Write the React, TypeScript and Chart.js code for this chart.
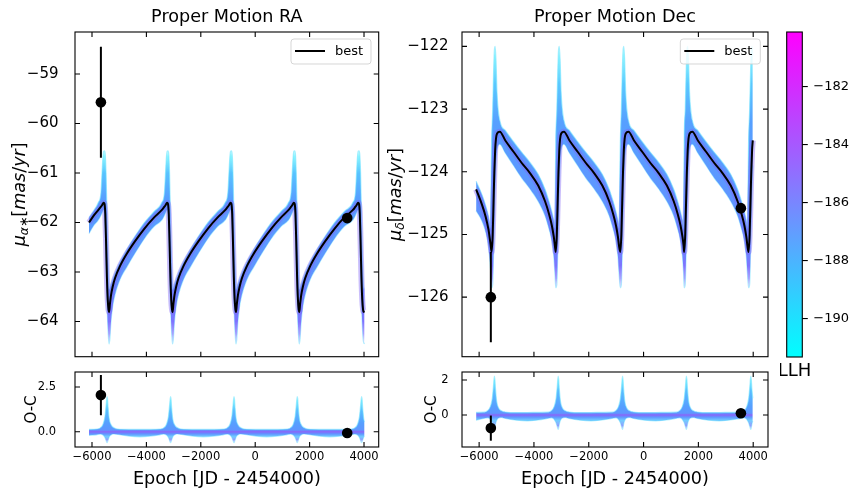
import React, { useEffect, useRef } from "react";
import { Chart, registerables } from "chart.js";

Chart.register(...registerables);

const FONT = '"DejaVu Sans", Verdana, sans-serif';
Chart.defaults.font.family = FONT;
Chart.defaults.color = "#000";

// ---------------- ticks & ranges ----------------
const epochTicks = [-6000, -4000, -2000, 0, 2000, 4000];
const raTicks = [-64, -63, -62, -61, -60, -59];
const decTicks = [-126, -125, -124, -123, -122];
const raResTicks = [0, 2.5];
const decResTicks = [0, 2];
const llhTicks = [-190, -188, -186, -184, -182];

const epochRange = [-6625, 4540];
const raRange = [-64.71, -58.15];
const decRange = [-126.95, -121.77];
const raResRange = [-0.85, 3.34];
const decResRange = [-1.83, 2.46];
const llhRange = [-191.32, -180.13];

const titleRA = "Proper Motion RA";
const titleDec = "Proper Motion Dec";
const epochLabel = "Epoch [JD - 2454000)";
const resLabel = "O-C";
const bestLabel = "best";
const cbarLabel = "LLH";

// ---------------- observations ----------------
const raObsEpoch = [-5673, 3382];
const raObs = [-59.57, -61.91];
const raObsErr = [1.12, 0.04];
const raObsRes = [2.05, -0.07];
const decObsEpoch = [-5573, 3551];
const decObs = [-126.0, -124.58];
const decObsErr = [0.72, 0.03];
const decObsRes = [-0.75, 0.1];

// ---------------- RA model curves ----------------
const raEpoch = [
  -6110, -5950,
  -5772, -5672, -5632, -5602, -5572, -5542, -5512, -5482, -5452, -5422, -5392, -5372, -5342, -5302, -5242, -5152, -4972, -4722, -4422, -4072, -3722,
  -3438, -3338, -3298, -3268, -3238, -3208, -3178, -3148, -3118, -3088, -3058, -3038, -3008, -2968, -2908, -2818, -2638, -2388, -2088, -1738, -1388,
  -1106, -1006, -966, -936, -906, -876, -846, -816, -786, -756, -726, -706, -676, -636, -576, -486, -306, -56, 244, 594, 944,
  1220, 1320, 1360, 1390, 1420, 1450, 1480, 1510, 1540, 1570, 1600, 1620, 1650, 1690, 1750, 1840, 2020, 2270, 2570, 2920, 3270,
  3585, 3685, 3725, 3755, 3785, 3815, 3845, 3875, 3905, 3935, 3965, 3985, 4020,
];
const raBest = [
  -62.0, -61.87,
  -61.75, -61.68, -61.65, -61.62, -61.6, -61.62, -61.82, -62.42, -63.1, -63.55, -63.76, -63.81, -63.65, -63.47, -63.3, -63.12, -62.88, -62.63, -62.38, -62.12, -61.9,
  -61.75, -61.68, -61.65, -61.62, -61.6, -61.62, -61.82, -62.42, -63.1, -63.55, -63.76, -63.81, -63.65, -63.47, -63.3, -63.12, -62.88, -62.63, -62.38, -62.12, -61.9,
  -61.75, -61.68, -61.65, -61.62, -61.6, -61.62, -61.82, -62.42, -63.1, -63.55, -63.76, -63.81, -63.65, -63.47, -63.3, -63.12, -62.88, -62.63, -62.38, -62.12, -61.9,
  -61.75, -61.68, -61.65, -61.62, -61.6, -61.62, -61.82, -62.42, -63.1, -63.55, -63.76, -63.81, -63.65, -63.47, -63.3, -63.12, -62.88, -62.63, -62.38, -62.12, -61.9,
  -61.75, -61.68, -61.65, -61.62, -61.6, -61.62, -61.82, -62.42, -63.1, -63.55, -63.76, -63.8, -63.81,
];
const raHi = [
  -61.9, -61.77,
  -61.6, -61.4, -61.0, -60.7, -60.56, -60.55, -60.62, -61.0, -61.75, -62.55, -63.1, -63.35, -63.32, -63.25, -63.16, -63.02, -62.8, -62.55, -62.28, -62.0, -61.78,
  -61.6, -61.4, -61.0, -60.7, -60.56, -60.55, -60.62, -61.0, -61.75, -62.55, -63.1, -63.35, -63.32, -63.25, -63.16, -63.02, -62.8, -62.55, -62.28, -62.0, -61.78,
  -61.6, -61.4, -61.0, -60.7, -60.56, -60.55, -60.62, -61.0, -61.75, -62.55, -63.1, -63.35, -63.32, -63.25, -63.16, -63.02, -62.8, -62.55, -62.28, -62.0, -61.78,
  -61.6, -61.4, -61.0, -60.7, -60.56, -60.55, -60.62, -61.0, -61.75, -62.55, -63.1, -63.35, -63.32, -63.25, -63.16, -63.02, -62.8, -62.55, -62.28, -62.0, -61.78,
  -61.6, -61.4, -61.0, -60.7, -60.56, -60.55, -60.62, -61.0, -61.75, -62.55, -63.1, -63.3, -63.35,
];
const raLo = [
  -62.22, -62.07,
  -61.95, -61.85, -61.8, -61.76, -61.74, -61.82, -62.3, -63.0, -63.6, -64.05, -64.35, -64.45, -64.35, -64.0, -63.7, -63.45, -63.15, -62.9, -62.62, -62.32, -62.08,
  -61.95, -61.85, -61.8, -61.76, -61.74, -61.82, -62.3, -63.0, -63.6, -64.05, -64.35, -64.45, -64.35, -64.0, -63.7, -63.45, -63.15, -62.9, -62.62, -62.32, -62.08,
  -61.95, -61.85, -61.8, -61.76, -61.74, -61.82, -62.3, -63.0, -63.6, -64.05, -64.35, -64.45, -64.35, -64.0, -63.7, -63.45, -63.15, -62.9, -62.62, -62.32, -62.08,
  -61.95, -61.85, -61.8, -61.76, -61.74, -61.82, -62.3, -63.0, -63.6, -64.05, -64.35, -64.45, -64.35, -64.0, -63.7, -63.45, -63.15, -62.9, -62.62, -62.32, -62.08,
  -61.95, -61.85, -61.8, -61.76, -61.74, -61.82, -62.3, -63.0, -63.6, -64.05, -64.35, -64.42, -64.45,
];

// ---------------- Dec model curves ----------------
const decEpoch = [
  -6110, -5900, -5760, -5660, -5585,
  -5545, -5505, -5475, -5445, -5415, -5385, -5345, -5245, -5045, -4745, -4445, -4145, -3845, -3595, -3445, -3345, -3275, -3235,
  -3205, -3165, -3135, -3105, -3075, -3045, -3005, -2905, -2705, -2405, -2105, -1805, -1505, -1255, -1105, -1005, -935, -895,
  -850, -810, -780, -750, -720, -690, -650, -550, -350, -50, 250, 550, 850, 1100, 1250, 1350, 1420, 1460,
  1480, 1520, 1550, 1580, 1610, 1640, 1680, 1780, 1980, 2280, 2580, 2880, 3180, 3430, 3580, 3680, 3750, 3790,
  3830, 3870, 3900, 3930, 3960, 3985,
];
const decBest = [
  -124.28, -124.52, -124.72, -124.92, -125.15,
  -125.28, -125.0, -124.5, -124.0, -123.65, -123.47, -123.39, -123.36, -123.5, -123.68, -123.86, -124.02, -124.22, -124.47, -124.68, -124.86, -125.04, -125.18,
  -125.28, -125.0, -124.5, -124.0, -123.65, -123.47, -123.39, -123.36, -123.5, -123.68, -123.86, -124.02, -124.22, -124.47, -124.68, -124.86, -125.04, -125.18,
  -125.28, -125.0, -124.5, -124.0, -123.65, -123.47, -123.39, -123.36, -123.5, -123.68, -123.86, -124.02, -124.22, -124.47, -124.68, -124.86, -125.04, -125.18,
  -125.28, -125.0, -124.5, -124.0, -123.65, -123.47, -123.39, -123.36, -123.5, -123.68, -123.86, -124.02, -124.22, -124.47, -124.68, -124.86, -125.04, -125.18,
  -125.28, -125.0, -124.5, -124.0, -123.65, -123.5,
];
const decHi = [
  -124.15, -124.36, -124.54, -124.71, -124.9,
  -123.55, -123.0, -122.45, -122.06, -122.0, -122.2, -122.75, -123.18, -123.34, -123.52, -123.69, -123.85, -124.04, -124.28, -124.48, -124.64, -124.78, -124.9,
  -123.55, -123.0, -122.45, -122.06, -122.0, -122.2, -122.75, -123.18, -123.34, -123.52, -123.69, -123.85, -124.04, -124.28, -124.48, -124.64, -124.78, -124.9,
  -123.55, -123.0, -122.45, -122.06, -122.0, -122.2, -122.75, -123.18, -123.34, -123.52, -123.69, -123.85, -124.04, -124.28, -124.48, -124.64, -124.78, -124.9,
  -123.55, -123.0, -122.45, -122.06, -122.0, -122.2, -122.75, -123.18, -123.34, -123.52, -123.69, -123.85, -124.04, -124.28, -124.48, -124.64, -124.78, -124.9,
  -123.55, -123.0, -122.45, -122.06, -122.0, -122.15,
];
const decLo = [
  -124.62, -124.78, -124.96, -125.18, -125.55,
  -125.85, -125.8, -125.35, -124.8, -124.25, -123.85, -123.64, -123.56, -123.7, -123.9, -124.1, -124.27, -124.47, -124.7, -124.92, -125.1, -125.35, -125.62,
  -125.85, -125.8, -125.35, -124.8, -124.25, -123.85, -123.64, -123.56, -123.7, -123.9, -124.1, -124.27, -124.47, -124.7, -124.92, -125.1, -125.35, -125.62,
  -125.85, -125.8, -125.35, -124.8, -124.25, -123.85, -123.64, -123.56, -123.7, -123.9, -124.1, -124.27, -124.47, -124.7, -124.92, -125.1, -125.35, -125.62,
  -125.85, -125.8, -125.35, -124.8, -124.25, -123.85, -123.64, -123.56, -123.7, -123.9, -124.1, -124.27, -124.47, -124.7, -124.92, -125.1, -125.35, -125.62,
  -125.85, -125.8, -125.35, -124.8, -124.25, -123.9,
];

// ---------------- RA residual band ----------------
const raResEpoch = [
  -6110,
  -5844, -5694, -5594, -5524, -5484, -5459, -5444, -5429, -5404, -5364, -5294, -5194, -5044, -4644, -4244, -3844,
  -3510, -3360, -3260, -3190, -3150, -3125, -3110, -3095, -3070, -3030, -2960, -2860, -2710, -2310, -1910, -1510,
  -1178, -1028, -928, -858, -818, -793, -778, -763, -738, -698, -628, -528, -378, 22, 422, 822,
  1148, 1298, 1398, 1468, 1508, 1533, 1548, 1563, 1588, 1628, 1698, 1798, 1948, 2348, 2748, 3148,
  3513, 3663, 3763, 3833, 3873, 3898, 3913, 3928, 3953, 3993, 4020,
];
const raResHi = [
  0.13,
  0.15, 0.22, 0.42, 0.85, 1.45, 1.85, 1.96, 1.85, 1.3, 0.7, 0.38, 0.22, 0.15, 0.13, 0.13, 0.13,
  0.15, 0.22, 0.42, 0.85, 1.45, 1.85, 1.96, 1.85, 1.3, 0.7, 0.38, 0.22, 0.15, 0.13, 0.13, 0.13,
  0.15, 0.22, 0.42, 0.85, 1.45, 1.85, 1.96, 1.85, 1.3, 0.7, 0.38, 0.22, 0.15, 0.13, 0.13, 0.13,
  0.15, 0.22, 0.42, 0.85, 1.45, 1.85, 1.96, 1.85, 1.3, 0.7, 0.38, 0.22, 0.15, 0.13, 0.13, 0.13,
  0.15, 0.22, 0.42, 0.85, 1.45, 1.85, 1.96, 1.85, 1.3, 0.7, 0.55,
];
const raResLo = [
  -0.2,
  -0.17, -0.13, -0.18, -0.32, -0.48, -0.58, -0.6, -0.56, -0.45, -0.28, -0.16, -0.12, -0.15, -0.24, -0.28, -0.24,
  -0.17, -0.13, -0.18, -0.32, -0.48, -0.58, -0.6, -0.56, -0.45, -0.28, -0.16, -0.12, -0.15, -0.24, -0.28, -0.24,
  -0.17, -0.13, -0.18, -0.32, -0.48, -0.58, -0.6, -0.56, -0.45, -0.28, -0.16, -0.12, -0.15, -0.24, -0.28, -0.24,
  -0.17, -0.13, -0.18, -0.32, -0.48, -0.58, -0.6, -0.56, -0.45, -0.28, -0.16, -0.12, -0.15, -0.24, -0.28, -0.24,
  -0.17, -0.13, -0.18, -0.32, -0.48, -0.58, -0.6, -0.56, -0.45, -0.28, -0.24,
];

// ---------------- Dec residual band ----------------
const decResEpoch = [
  -6110,
  -5840, -5690, -5590, -5520, -5480, -5455, -5440, -5425, -5400, -5360, -5290, -5190, -5040, -4640, -4240, -3840,
  -3512, -3362, -3262, -3192, -3152, -3127, -3112, -3097, -3072, -3032, -2962, -2862, -2712, -2312, -1912, -1512,
  -1165, -1015, -915, -845, -805, -780, -765, -750, -725, -685, -615, -515, -365, 35, 435, 835,
  1165, 1315, 1415, 1485, 1525, 1550, 1565, 1580, 1605, 1645, 1715, 1815, 1965, 2365, 2765, 3165,
  3515, 3665, 3765, 3835, 3875, 3900, 3915, 3930, 3955, 3985,
];
const decResHi = [
  0.15,
  0.16, 0.25, 0.48, 0.95, 1.6, 2.1, 2.22, 2.05, 1.45, 0.78, 0.4, 0.24, 0.17, 0.14, 0.14, 0.15,
  0.16, 0.25, 0.48, 0.95, 1.6, 2.1, 2.22, 2.05, 1.45, 0.78, 0.4, 0.24, 0.17, 0.14, 0.14, 0.15,
  0.16, 0.25, 0.48, 0.95, 1.6, 2.1, 2.22, 2.05, 1.45, 0.78, 0.4, 0.24, 0.17, 0.14, 0.14, 0.15,
  0.16, 0.25, 0.48, 0.95, 1.6, 2.1, 2.22, 2.05, 1.45, 0.78, 0.4, 0.24, 0.17, 0.14, 0.14, 0.15,
  0.16, 0.25, 0.48, 0.95, 1.6, 2.1, 2.22, 2.05, 1.45, 0.95,
];
const decResLo = [
  -0.3,
  -0.2, -0.16, -0.25, -0.45, -0.65, -0.78, -0.82, -0.72, -0.5, -0.3, -0.17, -0.14, -0.2, -0.3, -0.34, -0.28,
  -0.2, -0.16, -0.25, -0.45, -0.65, -0.78, -0.82, -0.72, -0.5, -0.3, -0.17, -0.14, -0.2, -0.3, -0.34, -0.28,
  -0.2, -0.16, -0.25, -0.45, -0.65, -0.78, -0.82, -0.72, -0.5, -0.3, -0.17, -0.14, -0.2, -0.3, -0.34, -0.28,
  -0.2, -0.16, -0.25, -0.45, -0.65, -0.78, -0.82, -0.72, -0.5, -0.3, -0.17, -0.14, -0.2, -0.3, -0.34, -0.28,
  -0.2, -0.16, -0.25, -0.45, -0.65, -0.78, -0.82, -0.72, -0.5, -0.36,
];

// ---------------- band colour stops (value -> colour) ----------------
type Stop = [number, string];
const raStops: Stop[] = [
  [-60.5, "rgba(195,255,255,0.25)"],
  [-60.66, "rgba(125,245,255,0.9)"],
  [-61.0, "rgba(88,195,255,1)"],
  [-61.5, "rgba(86,160,255,1)"],
  [-63.6, "rgba(100,142,255,1)"],
  [-64.0, "rgba(125,115,255,1)"],
  [-64.25, "rgba(150,140,255,0.8)"],
  [-64.47, "rgba(215,225,255,0.3)"],
];
const decStops: Stop[] = [
  [-121.95, "rgba(200,255,255,0.25)"],
  [-122.15, "rgba(130,245,255,0.9)"],
  [-122.6, "rgba(90,200,255,1)"],
  [-123.2, "rgba(86,160,255,1)"],
  [-125.2, "rgba(100,142,255,1)"],
  [-125.5, "rgba(125,115,255,1)"],
  [-125.7, "rgba(150,140,255,0.8)"],
  [-125.88, "rgba(215,225,255,0.3)"],
];
const raResStops: Stop[] = [
  [1.98, "rgba(200,255,255,0.35)"],
  [1.75, "rgba(120,240,255,0.95)"],
  [1.2, "rgba(90,190,255,1)"],
  [0.5, "rgba(86,160,255,1)"],
  [0.1, "rgba(95,150,255,1)"],
  [0.02, "rgba(130,110,250,1)"],
  [-0.02, "rgba(130,110,250,1)"],
  [-0.12, "rgba(95,150,255,1)"],
  [-0.28, "rgba(100,200,255,0.9)"],
  [-0.45, "rgba(130,140,255,0.85)"],
  [-0.62, "rgba(215,230,255,0.35)"],
];
const decResStops: Stop[] = [
  [2.24, "rgba(200,255,255,0.35)"],
  [2.0, "rgba(120,240,255,0.95)"],
  [1.4, "rgba(90,190,255,1)"],
  [0.5, "rgba(86,160,255,1)"],
  [0.1, "rgba(95,150,255,1)"],
  [0.02, "rgba(130,110,250,1)"],
  [-0.02, "rgba(130,110,250,1)"],
  [-0.12, "rgba(95,150,255,1)"],
  [-0.32, "rgba(100,200,255,0.9)"],
  [-0.62, "rgba(130,140,255,0.85)"],
  [-0.84, "rgba(215,230,255,0.35)"],
];

// ---------------- helpers ----------------
const pts = (xs: number[], ys: number[]) => xs.map((x, i) => ({ x, y: ys[i] }));
const minus = (v: number, d = 0) => (v < 0 ? "\u2212" : "") + Math.abs(v).toFixed(d);

function fixFit(w: number | null, h: number | null) {
  return (s: any) => {
    if (w !== null) s.width = w;
    if (h !== null) s.height = h;
    s.paddingTop = 0;
    s.paddingBottom = 0;
    s.paddingLeft = 0;
    s.paddingRight = 0;
  };
}

function gradientFill(stops: Stop[], fallback: string) {
  return (context: any) => {
    const chart = context.chart;
    const area = chart.chartArea;
    const ys = chart.scales && chart.scales.y;
    if (!area || !ys) return fallback;
    const h = area.bottom - area.top;
    const g = chart.ctx.createLinearGradient(0, area.top, 0, area.bottom);
    stops.forEach(([v, c]) => {
      const f = (ys.getPixelForValue(v) - area.top) / h;
      g.addColorStop(Math.min(1, Math.max(0, f)), c);
    });
    return g;
  };
}

function bandSets(xs: number[], hi: number[], lo: number[], stops: Stop[]) {
  const edge = "rgba(110,228,255,0.55)";
  return [
    { data: pts(xs, hi), borderColor: edge, borderWidth: 1.2, pointRadius: 0, fill: "+1", backgroundColor: gradientFill(stops, "#5a9cff"), cubicInterpolationMode: "monotone" },
    { data: pts(xs, lo), borderColor: edge, borderWidth: 1.2, pointRadius: 0, fill: false, cubicInterpolationMode: "monotone" },
  ];
}

function obsSets(xs: number[], ys: number[], errs: number[]) {
  return [
    { data: pts(xs, ys), showLine: false, pointRadius: 5.3, pointBackgroundColor: "#000", pointBorderColor: "#000", pointBorderWidth: 0 },
    ...xs.map((x, i) => ({
      data: [{ x, y: ys[i] - errs[i] }, { x, y: ys[i] + errs[i] }],
      borderColor: "#000", borderWidth: 2, pointRadius: 0, fill: false,
    })),
  ];
}

function bestSets(xs: number[], best: number[]) {
  return [
    { label: bestLabel, data: pts(xs, best), borderColor: "#000", borderWidth: 2, pointRadius: 0, fill: false, cubicInterpolationMode: "monotone" },
    { data: pts(xs, best), borderColor: "rgba(128,100,245,0.42)", borderWidth: 6, pointRadius: 0, fill: false, cubicInterpolationMode: "monotone" },
  ];
}

function framePlugin(xT: number[] | null, yT: number[] | null) {
  return {
    id: "frameTicks",
    afterDatasetsDraw(chart: any) {
      const { ctx, chartArea: a, scales } = chart;
      const L = 5;
      ctx.save();
      ctx.strokeStyle = "#000";
      ctx.lineWidth = 1.1;
      ctx.beginPath();
      if (xT) xT.forEach((v) => {
        const p = scales.x.getPixelForValue(v);
        ctx.moveTo(p, a.bottom); ctx.lineTo(p, a.bottom - L);
        ctx.moveTo(p, a.top); ctx.lineTo(p, a.top + L);
      });
      if (yT) yT.forEach((v) => {
        const p = scales.y.getPixelForValue(v);
        ctx.moveTo(a.left, p); ctx.lineTo(a.left + L, p);
        ctx.moveTo(a.right, p); ctx.lineTo(a.right - L, p);
      });
      ctx.stroke();
      ctx.strokeRect(a.left, a.top, a.right - a.left, a.bottom - a.top);
      ctx.restore();
    },
  };
}

function legendPlugin(label: string) {
  return {
    id: "bestLegend",
    afterDraw(chart: any) {
      const { ctx, chartArea: a } = chart;
      const w = 80, h = 25;
      const x0 = a.right - 7.7 - w, y0 = a.top + 7;
      ctx.save();
      ctx.beginPath();
      ctx.roundRect(x0, y0, w, h, 3);
      ctx.fillStyle = "rgba(255,255,255,0.8)";
      ctx.fill();
      ctx.strokeStyle = "rgba(204,204,204,0.8)";
      ctx.lineWidth = 1;
      ctx.stroke();
      ctx.beginPath();
      ctx.moveTo(x0 + 4, y0 + 12);
      ctx.lineTo(x0 + 34, y0 + 12);
      ctx.strokeStyle = "#000";
      ctx.lineWidth = 2;
      ctx.stroke();
      ctx.fillStyle = "#000";
      ctx.font = `13px ${FONT}`;
      ctx.textBaseline = "middle";
      ctx.textAlign = "left";
      ctx.fillText(label, x0 + 44, y0 + 12.5);
      ctx.restore();
    },
  };
}

type Seg = [string, boolean, number, boolean];
function mathLabelPlugin(segs: Seg[], cx: number, size: number) {
  return {
    id: "mathLabel",
    afterDraw(chart: any) {
      const { ctx, chartArea: a } = chart;
      ctx.save();
      ctx.translate(cx, (a.top + a.bottom) / 2);
      ctx.rotate(-Math.PI / 2);
      ctx.fillStyle = "#000";
      ctx.textBaseline = "alphabetic";
      ctx.textAlign = "left";
      const font = (s: Seg) => `${s[1] ? "italic " : ""}${(size * s[2]).toFixed(2)}px ${FONT}`;
      const widths = segs.map((s) => { ctx.font = font(s); return ctx.measureText(s[0]).width; });
      let x = -widths.reduce((p, c) => p + c, 0) / 2;
      const base = size * 0.315;
      segs.forEach((s, i) => {
        ctx.font = font(s);
        ctx.fillText(s[0], x, base + (s[3] ? size * 0.22 : 0));
        x += widths[i];
      });
      ctx.restore();
    },
  };
}

const raYLabel: Seg[] = [
  ["\u03bc", true, 1, false], ["\u03b1", true, 0.7, true], ["\u2217", false, 0.7, true],
  ["[", false, 1, false], ["mas", true, 1, false], ["/", false, 1, false], ["yr", true, 1, false], ["]", false, 1, false],
];
const decYLabel: Seg[] = [
  ["\u03bc", true, 1, false], ["\u03b4", true, 0.7, true],
  ["[", false, 1, false], ["mas", true, 1, false], ["/", false, 1, false], ["yr", true, 1, false], ["]", false, 1, false],
];

interface PanelSpec {
  title?: string;
  yRange: number[];
  yTicks: number[];
  yFmt: (v: number) => string;
  yFont: number;
  yPad: number;
  yWidth: number;
  padding: any;
  showX: boolean;
  yTitle?: string;
  yTitlePad?: number;
  datasets: any[];
  plugins: any[];
}

function panelConfig(spec: PanelSpec): any {
  const xAxis: any = {
    type: "linear", min: epochRange[0], max: epochRange[1], bounds: "data", display: spec.showX,
    afterBuildTicks: (s: any) => { s.ticks = epochTicks.map((value) => ({ value })); },
    afterFit: fixFit(null, spec.showX ? 52 : 0),
    grid: { display: false }, border: { display: false },
    ticks: { autoSkip: false, maxRotation: 0, padding: -4.5, font: { size: 11.5 }, color: "#000", callback: (v: any) => minus(Number(v)) },
  };
  if (spec.showX) {
    xAxis.title = { display: true, text: epochLabel, font: { size: 17.6 }, color: "#000", padding: { top: 0, bottom: 9.1 } };
  }
  const yAxis: any = {
    type: "linear", min: spec.yRange[0], max: spec.yRange[1], bounds: "data",
    afterBuildTicks: (s: any) => { s.ticks = spec.yTicks.map((value) => ({ value })); },
    afterFit: fixFit(spec.yWidth, null),
    grid: { display: false }, border: { display: false },
    ticks: { autoSkip: false, padding: spec.yPad, font: { size: spec.yFont }, color: "#000", callback: (v: any) => spec.yFmt(Number(v)) },
  };
  if (spec.yTitle) {
    yAxis.title = { display: true, text: spec.yTitle, font: { size: 15 }, color: "#000", padding: { top: spec.yTitlePad, bottom: 0 } };
  }
  return {
    type: "line",
    data: { datasets: spec.datasets },
    options: {
      animation: false, responsive: false, events: [],
      layout: { padding: spec.padding },
      scales: { x: xAxis, y: yAxis },
      plugins: {
        legend: { display: false },
        tooltip: { enabled: false },
        title: spec.title
          ? { display: true, text: spec.title, fullSize: false, color: "#000", font: { size: 17.6, weight: "normal", lineHeight: 1.2 }, padding: { top: 6.94, bottom: 3.94 } }
          : { display: false },
      },
    },
    plugins: spec.plugins,
  };
}

const makeRaMain = () => panelConfig({
  title: titleRA, yRange: raRange, yTicks: raTicks, yFmt: (v) => minus(v), yFont: 15, yPad: 8.5, yWidth: 75,
  padding: { left: 0, right: 2, top: 0, bottom: 5 }, showX: false,
  datasets: [...obsSets(raObsEpoch, raObs, raObsErr), ...bestSets(raEpoch, raBest), ...bandSets(raEpoch, raHi, raLo, raStops)],
  plugins: [framePlugin(epochTicks, raTicks), legendPlugin(bestLabel), mathLabelPlugin(raYLabel, 19, 17.6)],
});

const makeRaRes = () => panelConfig({
  yRange: raResRange, yTicks: raResTicks, yFmt: (v) => minus(v, 1), yFont: 11.5, yPad: 11, yWidth: 75,
  padding: { left: 0, right: 2, top: 10, bottom: 0 }, showX: true, yTitle: resLabel, yTitlePad: 23.5,
  datasets: [...obsSets(raObsEpoch, raObsRes, raObsErr), ...bandSets(raResEpoch, raResHi, raResLo, raResStops)],
  plugins: [framePlugin(epochTicks, raResTicks)],
});

const makeDecMain = () => panelConfig({
  title: titleDec, yRange: decRange, yTicks: decTicks, yFmt: (v) => minus(v), yFont: 15, yPad: 5.5, yWidth: 78,
  padding: { left: 0, right: 12, top: 0, bottom: 5 }, showX: false,
  datasets: [...obsSets(decObsEpoch, decObs, decObsErr), ...bestSets(decEpoch, decBest), ...bandSets(decEpoch, decHi, decLo, decStops)],
  plugins: [framePlugin(epochTicks, decTicks), legendPlugin(bestLabel), mathLabelPlugin(decYLabel, 11, 17.6)],
});

const makeDecRes = () => panelConfig({
  yRange: decResRange, yTicks: decResTicks, yFmt: (v) => minus(v), yFont: 11.5, yPad: 5.5, yWidth: 78,
  padding: { left: 0, right: 12, top: 10, bottom: 0 }, showX: true, yTitle: resLabel, yTitlePad: 39.5,
  datasets: [...obsSets(decObsEpoch, decObsRes, decObsErr), ...bandSets(decResEpoch, decResHi, decResLo, decResStops)],
  plugins: [framePlugin(epochTicks, decResTicks)],
});

const colorbarPlugin = {
  id: "cbar",
  beforeDatasetsDraw(chart: any) {
    const { ctx, chartArea: a } = chart;
    const g = ctx.createLinearGradient(0, a.bottom, 0, a.top);
    g.addColorStop(0, "rgb(0,255,255)");
    g.addColorStop(1, "rgb(255,0,255)");
    ctx.save();
    ctx.fillStyle = g;
    ctx.fillRect(a.left, a.top, a.right - a.left, a.bottom - a.top);
    ctx.restore();
  },
  afterDraw(chart: any) {
    const { ctx, chartArea: a } = chart;
    ctx.save();
    ctx.fillStyle = "#000";
    ctx.font = `18px ${FONT}`;
    ctx.textAlign = "center";
    ctx.textBaseline = "middle";
    ctx.fillText(cbarLabel, (a.left + a.right) / 2, a.bottom + 14.7);
    ctx.restore();
  },
};

const makeColorbar = (): any => ({
  type: "line",
  data: { datasets: [] },
  options: {
    animation: false, responsive: false, events: [],
    layout: { padding: { left: 6.7, top: 32, bottom: 43, right: 0 } },
    scales: {
      x: { type: "linear", display: false, min: 0, max: 1, afterFit: fixFit(null, 0) },
      y: {
        type: "linear", position: "right", min: llhRange[0], max: llhRange[1], bounds: "data",
        afterBuildTicks: (s: any) => { s.ticks = llhTicks.map((value) => ({ value })); },
        afterFit: fixFit(56.7, null),
        grid: { display: true, drawOnChartArea: false, drawTicks: true, tickLength: 5.5, color: "#000", lineWidth: 1.1 },
        border: { display: false },
        ticks: { autoSkip: false, padding: 5.5, font: { size: 13 }, color: "#000", callback: (v: any) => minus(Number(v)) },
      },
    },
    plugins: { legend: { display: false }, tooltip: { enabled: false } },
  },
  plugins: [colorbarPlugin, framePlugin(null, null)],
});

function ChartBox({ make, left, top, width, height }: { make: () => any; left: number; top: number; width: number; height: number }) {
  const ref = useRef<HTMLCanvasElement>(null);
  useEffect(() => {
    const chart = new Chart(ref.current as HTMLCanvasElement, make());
    return () => chart.destroy();
  }, [make]);
  return <canvas ref={ref} width={width} height={height} style={{ position: "absolute", left, top, width, height }} />;
}

export default function App() {
  return (
    <div style={{ position: "absolute", left: 0, top: 0, width: 859, height: 499, background: "#fff", overflow: "hidden" }}>
      <ChartBox make={makeRaMain} left={0} top={0} width={384} height={362} />
      <ChartBox make={makeRaRes} left={0} top={362} width={384} height={137} />
      <ChartBox make={makeDecMain} left={384} top={0} width={396} height={362} />
      <ChartBox make={makeDecRes} left={384} top={362} width={396} height={137} />
      <ChartBox make={makeColorbar} left={780} top={0} width={79} height={400} />
    </div>
  );
}
